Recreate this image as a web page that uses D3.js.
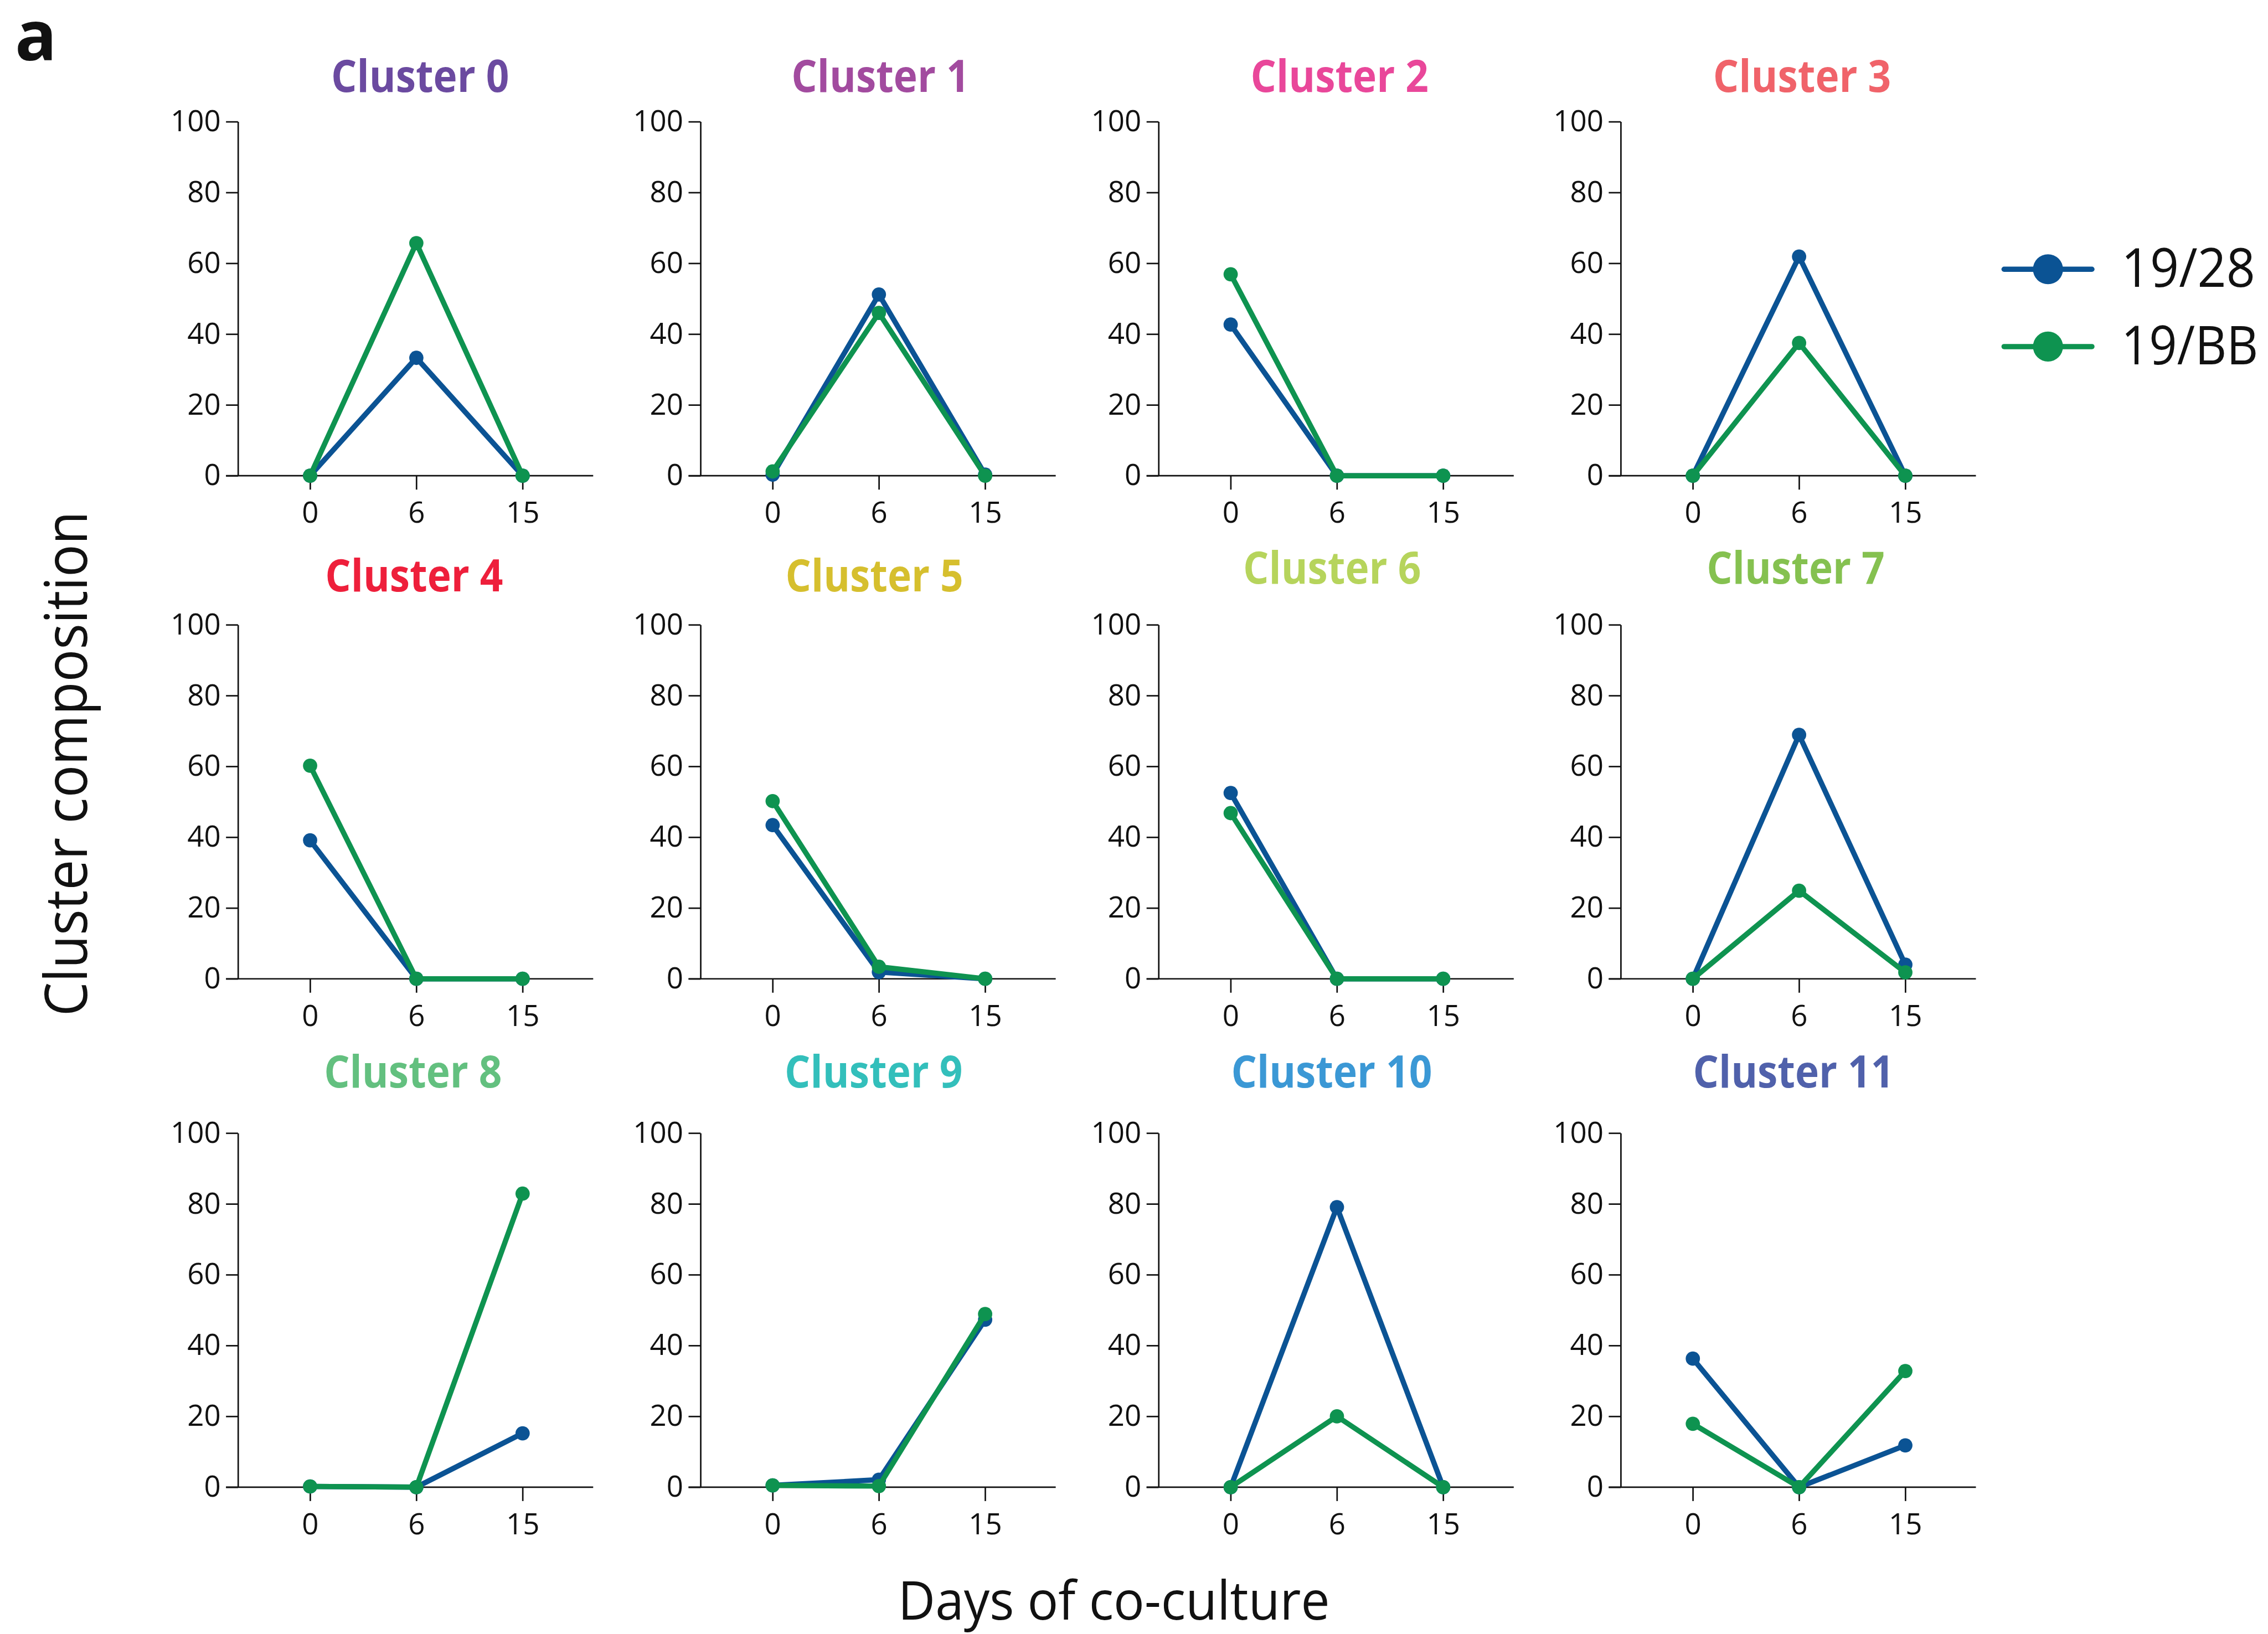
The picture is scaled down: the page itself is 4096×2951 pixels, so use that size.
<!DOCTYPE html>
<html>
<head>
<meta charset="utf-8">
<script src="https://cdn.jsdelivr.net/npm/d3@7"></script>
<style>
  html, body { margin: 0; padding: 0; background: #fff; }
  svg { display: block; }
  text { font-family: "Open Sans", "Noto Sans", sans-serif; fill: #111; }
</style>
</head>
<body>
<svg id="chart"></svg>
<script>
// ---- data ----
const days = ["0", "6", "15"];
const clusterNames = ["Cluster 0", "Cluster 1", "Cluster 2", "Cluster 3",
                      "Cluster 4", "Cluster 5", "Cluster 6", "Cluster 7",
                      "Cluster 8", "Cluster 9", "Cluster 10", "Cluster 11"];
const clusterColors = ["#6b4aa0", "#a24b9f", "#e9479a", "#f0636a",
                       "#ee1f3b", "#d6bf2e", "#b6d45c", "#85c150",
                       "#63c07f", "#33bfbb", "#3b98d5", "#5061ab"];
const seriesNames = ["19/28", "19/BB"];
const seriesColors = ["#0b5394", "#0e9350"];
// percentage of each cluster per condition at day 0, 6, 15
const values1928 = [[0, 33.3, 0], [0.3, 51.2, 0.3], [42.7, 0, 0], [0, 61.9, 0],
                    [39.1, 0, 0], [43.4, 1.9, 0], [52.5, 0, 0], [0, 68.9, 4.0],
                    [0.2, 0, 15.2], [0.5, 2.1, 47.3], [0, 79.1, 0], [36.3, 0, 11.8]];
const values19BB = [[0, 65.7, 0], [1.2, 46.0, 0], [56.9, 0, 0], [0, 37.5, 0],
                    [60.2, 0, 0], [50.2, 3.4, 0], [46.8, 0, 0], [0, 24.9, 1.8],
                    [0.2, 0, 82.9], [0.5, 0.3, 48.9], [0, 20.0, 0], [17.9, 0, 32.8]];
const yTicks = [0, 20, 40, 60, 80, 100];
const xTitle = "Days of co-culture";
const yTitle = "Cluster composition";
const panelLetter = "a";

// ---- layout (drawing units of a 6041 x 4352 canvas) ----
const W = 6041, H = 4352;
const colX = [634, 1866, 3086, 4317];       // y-axis position of each column
const rowTop = [324, 1664, 3018];           // y position of the 100 tick per row
const plotH = 943;
const xRange = [192, 758];                  // day 0 / day 15 offsets from y-axis
const axisLeft = -32, axisRight = 946;
const titlePos = [[1119, 245], [2345, 245], [3568, 245], [4800, 245],
                  [1103, 1575], [2329, 1575], [3548, 1555], [4783, 1555],
                  [1100, 2897], [2327, 2897], [3547, 2897], [4777, 2897]];

const svg = d3.select("#chart")
  .attr("width", 4096).attr("height", 2951)
  .attr("viewBox", `0 0 ${W} ${H}`);

svg.append("rect").attr("width", W).attr("height", H).attr("fill", "#fff");

const x = d3.scalePoint().domain(days).range(xRange);
const y = d3.scaleLinear().domain([0, 100]).range([plotH, 0]);

const line = d3.line()
  .x((d, i) => x(days[i]))
  .y(d => y(d));

const seriesValues = [values1928, values19BB];

clusterNames.forEach((name, k) => {
  const col = k % 4, row = Math.floor(k / 4);
  const g = svg.append("g")
    .attr("transform", `translate(${colX[col]},${rowTop[row]})`);

  // y axis
  const ya = g.append("g")
    .call(d3.axisLeft(y).tickValues(yTicks).tickSize(32).tickSizeOuter(0).tickPadding(14));
  ya.select(".domain").attr("stroke", "#111").attr("stroke-width", 4);
  ya.selectAll(".tick line").attr("stroke", "#111").attr("stroke-width", 4);
  ya.selectAll(".tick text")
    .attr("font-family", "'Open Sans', sans-serif")
    .attr("font-size", 78).attr("fill", "#111");

  // x axis
  const xa = g.append("g")
    .attr("transform", `translate(0,${plotH})`)
    .call(d3.axisBottom(x).tickSize(37).tickSizeOuter(0).tickPadding(33));
  xa.select(".domain").remove();
  xa.append("line")
    .attr("x1", axisLeft).attr("x2", axisRight)
    .attr("stroke", "#111").attr("stroke-width", 4);
  xa.selectAll(".tick line").attr("stroke", "#111").attr("stroke-width", 4);
  xa.selectAll(".tick text")
    .attr("font-family", "'Open Sans', sans-serif")
    .attr("font-size", 78).attr("fill", "#111");

  // series lines and points
  seriesValues.forEach((vals, s) => {
    const v = vals[k];
    g.append("path")
      .datum(v)
      .attr("d", line)
      .attr("fill", "none")
      .attr("stroke", seriesColors[s])
      .attr("stroke-width", 14)
      .attr("stroke-linejoin", "round")
      .attr("stroke-linecap", "round");
    g.selectAll(null)
      .data(v)
      .enter().append("circle")
      .attr("cx", (d, i) => x(days[i]))
      .attr("cy", d => y(d))
      .attr("r", 19)
      .attr("fill", seriesColors[s]);
  });

  // panel title
  svg.append("text")
    .attr("class", "ptitle")
    .attr("x", titlePos[k][0]).attr("y", titlePos[k][1])
    .attr("text-anchor", "middle")
    .attr("font-weight", 700)
    .attr("font-size", 120)
    .style("fill", clusterColors[k])
    .text(name);
});

// condense bold titles to the narrower face used in the figure
const refTitle = svg.select(".ptitle").node();
const ratio = 474 / refTitle.getComputedTextLength();
svg.selectAll(".ptitle").each(function () {
  const len = this.getComputedTextLength();
  d3.select(this).attr("textLength", len * ratio).attr("lengthAdjust", "spacingAndGlyphs");
});

// legend
const legY = [717, 923];
seriesNames.forEach((nm, s) => {
  const lg = svg.append("g").attr("transform", `translate(0,${legY[s]})`);
  lg.append("line")
    .attr("x1", 5338).attr("x2", 5572)
    .attr("stroke", seriesColors[s]).attr("stroke-width", 14)
    .attr("stroke-linecap", "round");
  lg.append("circle")
    .attr("cx", 5455).attr("r", 40)
    .attr("fill", seriesColors[s]);
  lg.append("text")
    .attr("x", 5650).attr("y", 47)
    .attr("font-size", 142)
    .attr("textLength", s === 0 ? 357 : 365)
    .attr("lengthAdjust", "spacingAndGlyphs")
    .text(nm);
});

// axis titles
svg.append("text")
  .attr("x", 2967).attr("y", 4314)
  .attr("text-anchor", "middle")
  .attr("font-size", 143)
  .attr("textLength", 1150)
  .attr("lengthAdjust", "spacingAndGlyphs")
  .text(xTitle);

svg.append("text")
  .attr("transform", "translate(232,2034) rotate(-90)")
  .attr("text-anchor", "middle")
  .attr("font-size", 157)
  .attr("textLength", 1345)
  .attr("lengthAdjust", "spacingAndGlyphs")
  .text(yTitle);

// panel letter
svg.append("text")
  .attr("x", 40).attr("y", 160)
  .attr("font-size", 185)
  .attr("font-weight", 700)
  .text(panelLetter);
</script>
</body>
</html>
